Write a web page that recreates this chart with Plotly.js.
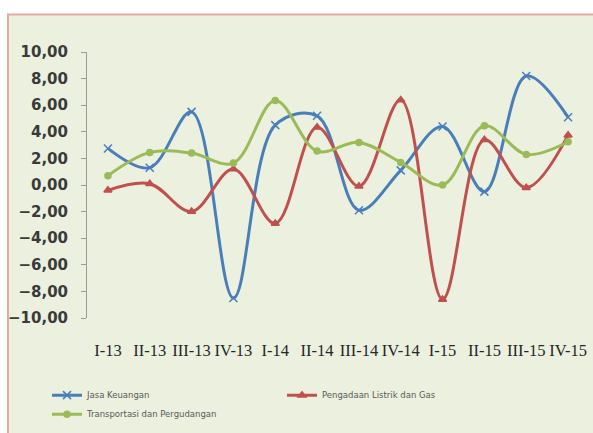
<!DOCTYPE html>
<html>
<head>
<meta charset="utf-8">
<script src="https://cdn.plot.ly/plotly-3.0.1.min.js"></script>
<style>
  html, body { margin: 0; padding: 0; background: #ffffff; }
  #chart { width: 593px; height: 433px; }
</style>
</head>
<body>
<div id="chart"></div>
<script>
// Quarterly growth by sector (%), 2013-2015
const quarters = ["I-13", "II-13", "III-13", "IV-13", "I-14", "II-14", "III-14", "IV-14", "I-15", "II-15", "III-15", "IV-15"];

const jasaKeuangan = [2.75, 1.3, 5.5, -8.5, 4.5, 5.2, -1.9, 1.1, 4.4, -0.5, 8.2, 5.1];
const listrikGas   = [-0.4, 0.1, -2.0, 1.2, -2.9, 4.35, -0.1, 6.4, -8.6, 3.4, -0.2, 3.75];
const transportasi = [0.7, 2.45, 2.4, 1.65, 6.35, 2.55, 3.2, 1.7, 0.0, 4.45, 2.3, 3.25];

const seriesNames = ["Jasa Keuangan", "Pengadaan Listrik dan Gas", "Transportasi dan Pergudangan"];
const yTickValues = [-10, -8, -6, -4, -2, 0, 2, 4, 6, 8, 10];

function series(name, values, color, symbol, size) {
  return {
    type: "scatter",
    mode: "lines+markers",
    name: name,
    x: quarters,
    y: values,
    line: { color: color, width: 3, shape: "spline", smoothing: 1 },
    marker: { color: color, symbol: symbol, size: size, line: { color: color, width: 1.5 } }
  };
}

const traces = [
  series(seriesNames[0], jasaKeuangan, "#4a7ebb", "x-thin", 8),
  series(seriesNames[1], listrikGas, "#c0504d", "triangle-up", 7),
  series(seriesNames[2], transportasi, "#9bbb59", "circle", 6)
];

// plot area in pixels: x 87..589, y 52..328
const L = 87, R = 589, T = 52, B = 328;
const px = v => (v - L) / (R - L);
const py = v => (B - v) / (B - T);

const boundaries = [];
for (let i = 0; i <= quarters.length; i++) boundaries.push(i - 0.5);

const layout = {
  width: 593,
  height: 433,
  margin: { l: L, r: 593 - R, t: T, b: 433 - B },
  paper_bgcolor: "#ffffff",
  plot_bgcolor: "rgba(0,0,0,0)",
  separators: ",.",
  showlegend: true,
  legend: {
    orientation: "h",
    x: px(47),
    xanchor: "left",
    y: py(393),
    yanchor: "top",
    entrywidth: 190,
    entrywidthmode: "pixels",
    font: { family: "DejaVu Sans", size: 8.5, color: "#595959" },
    bgcolor: "rgba(0,0,0,0)",
    itemclick: false
  },
  xaxis: {
    type: "category",
    range: [-0.5, quarters.length - 0.5],
    showline: false,
    showgrid: false,
    zeroline: false,
    ticks: "",
    ticklabelstandoff: 20,
    tickfont: { family: "Liberation Serif", size: 16.5, color: "#262626" }
  },
  // horizontal axis line crossing at zero, with ticks between categories
  xaxis2: {
    overlaying: "x",
    anchor: "free",
    position: 0.5,
    range: [-0.5, quarters.length - 0.5],
    tickmode: "array",
    tickvals: boundaries,
    showticklabels: false,
    ticks: "outside",
    ticklen: 4,
    tickcolor: "#9a9a9a",
    showline: true,
    linecolor: "#9a9a9a",
    linewidth: 1,
    showgrid: false,
    zeroline: false
  },
  yaxis: {
    range: [-10, 10],
    tickmode: "array",
    tickvals: yTickValues,
    tickformat: ".2f",
    ticks: "outside",
    ticklen: 5,
    tickcolor: "#9a9a9a",
    showline: true,
    linecolor: "#9a9a9a",
    linewidth: 1,
    showgrid: false,
    zeroline: false,
    ticklabelstandoff: 10,
    tickfont: { family: "DejaVu Sans", size: 15, color: "#3a3a3a", weight: 600 }
  },
  shapes: [
    {
      type: "rect",
      xref: "paper", yref: "paper",
      x0: px(8), x1: px(620),
      y0: py(460), y1: py(13),
      fillcolor: "#ebf1de",
      line: { color: "#e8a89c", width: 2 },
      layer: "below"
    }
  ]
};

Plotly.newPlot("chart", traces, layout, { staticPlot: true, displayModeBar: false });
</script>
</body>
</html>
